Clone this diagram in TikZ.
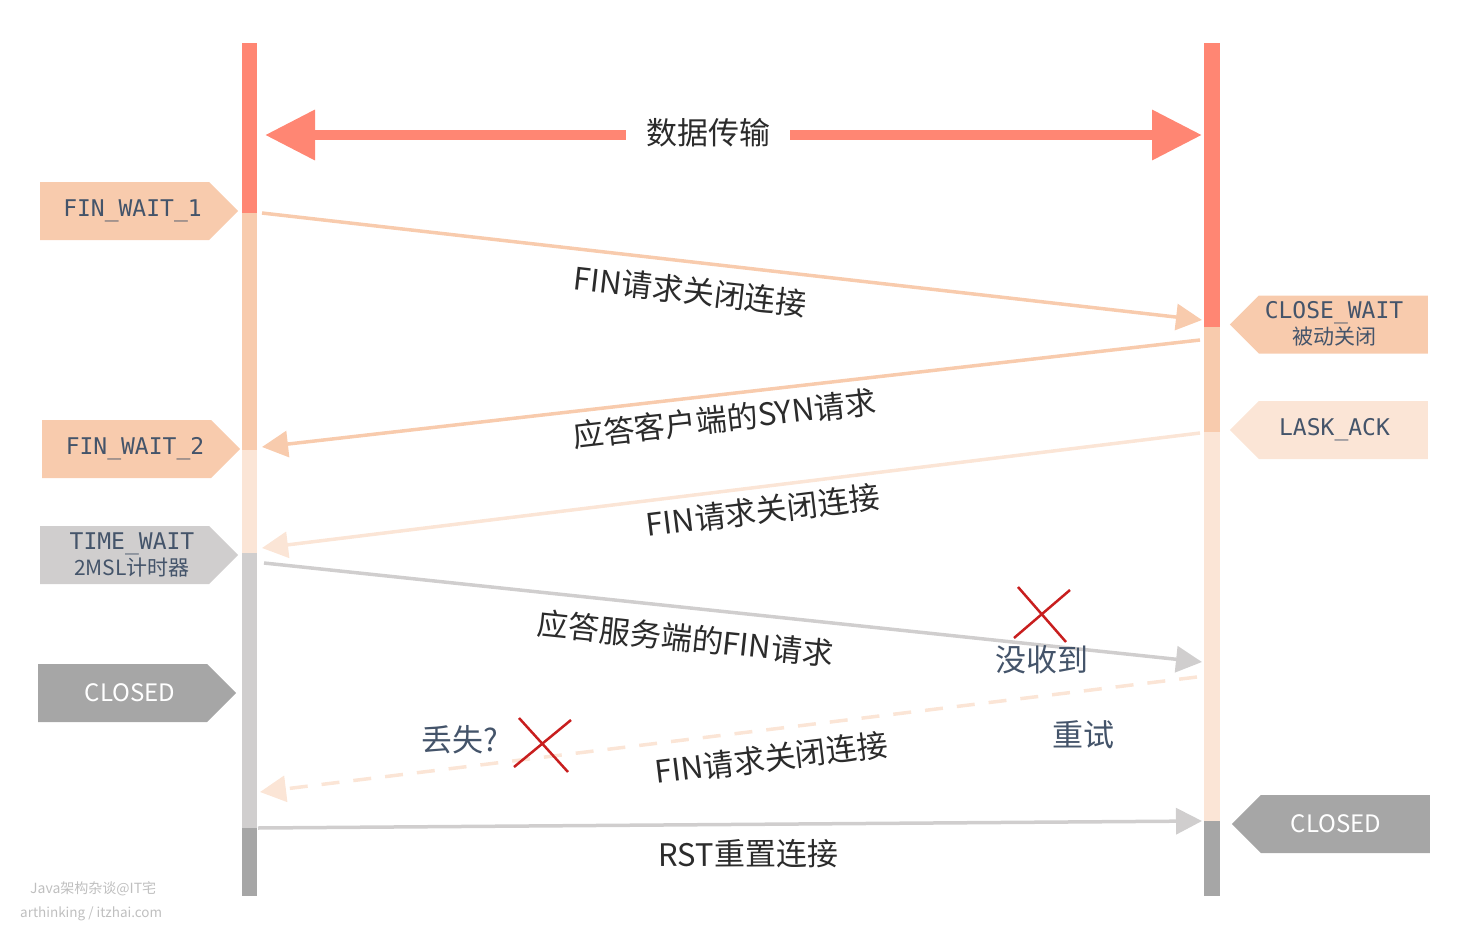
\documentclass[tikz,border=0pt]{standalone}
\usepackage{fontspec}
\setmainfont{Noto Sans CJK SC}
\newfontfamily\monof{DejaVu Sans Mono}
\usetikzlibrary{arrows.meta,shapes.symbols}

\definecolor{cred}{HTML}{FF8673}
\definecolor{cpeach}{HTML}{F8CBAD}
\definecolor{clight}{HTML}{FBE5D6}
\definecolor{cgray}{HTML}{D0CECE}
\definecolor{cdark}{HTML}{A6A6A6}
\definecolor{ctext}{HTML}{44546A}
\definecolor{clbl}{HTML}{2B2B2B}
\definecolor{ccross}{HTML}{C81E1E}
\definecolor{cwm}{HTML}{BFBFBF}

\tikzset{
  tag/.style={signal, signal from=nowhere, signal pointer angle=90,
    minimum width=198pt, minimum height=58pt, inner sep=0pt},
  tagr/.style={tag, signal to=east, anchor=west},
  tagl/.style={tag, signal to=west, anchor=east},
  tagtext/.style={inner sep=0pt, text=ctext, align=center},
  msg/.style={line width=3.5pt, -{Triangle[length=26pt,width=26pt]}},
  lbl/.style={font=\fontsize{31}{36}\selectfont, text=clbl, sloped, inner sep=0pt},
  note/.style={font=\fontsize{31}{36}\selectfont, text=ctext, inner sep=0pt},
  cross/.style={ccross, line width=2.5pt},
}

\begin{document}
\begin{tikzpicture}[x=1pt,y=-1pt]

  \useasboundingbox (0,0) rectangle (1476,926);

  \def\mono{\monof\fontsize{23}{26}\selectfont}
  \def\small{\fontsize{21}{24}\selectfont}
  \def\us{\char95\relax}

  % bars
  \foreach \ya/\yb/\col in {43/213/cred,213/450/cpeach,450/553/clight,553/828/cgray,828/896/cdark}
    \fill[\col] (242,\ya) rectangle (257,\yb);
  \foreach \ya/\yb/\col in {43/327/cred,327/432/cpeach,432/821/clight,821/896/cdark}
    \fill[\col] (1204,\ya) rectangle (1220,\yb);

  % data transfer
  \coordinate (tl) at (265,135);
  \coordinate (tr) at (1202,135);
  \draw[cred, line width=10pt, {Triangle[length=50pt,width=48pt]}-{Triangle[length=50pt,width=48pt]}] (tl) -- (tr);
  \node[fill=white, inner xsep=20pt, inner ysep=2pt, font=\fontsize{31}{36}\selectfont, text=clbl] (data) at (708,133) {数据传输};

  % states
  \node[tagr, fill=cpeach] (fw1) at (40,211) {};
  \node[tagtext] (fw1t) at (132.5,211) {\mono FIN\us WAIT\us 1};
  \node[tagr, fill=cpeach] (fw2) at (42,449) {};
  \node[tagtext] (fw2t) at (135,449) {\mono FIN\us WAIT\us 2};
  \node[tagr, fill=cgray] (tw) at (40,555) {};
  \node[tagtext] (twt) at (132,555) {\mono TIME\us WAIT\\[2pt]\small 2MSL计时器};
  \node[tagr, fill=cdark] (cl1) at (38,693) {};
  \node[tagtext, text=white, font=\fontsize{24}{28}\selectfont] (cl1t) at (130,693) {CLOSED};
  \node[tagl, fill=cpeach] (cw) at (1428,324.5) {};
  \node[tagtext] (cwt) at (1334,324) {\mono CLOSE\us WAIT\\[2pt]\small 被动关闭};
  \node[tagl, fill=clight] (la) at (1428,430) {};
  \node[tagtext] (lat) at (1334.5,430) {\mono LASK\us ACK};
  \node[tagl, fill=cdark] (cl2) at (1430,824) {};
  \node[tagtext, text=white, font=\fontsize{24}{28}\selectfont] (cl2t) at (1336,824) {CLOSED};

  % messages
  \coordinate (c1) at (262,213);   \coordinate (s1) at (1202,320);
  \coordinate (s2) at (1200,340);  \coordinate (c2) at (262,447);
  \coordinate (s3) at (1200,433);  \coordinate (c3) at (262,548);
  \coordinate (c4) at (264,563);   \coordinate (s4) at (1202,662);
  \coordinate (s5) at (1197,677);  \coordinate (c5) at (260,792);
  \coordinate (c6) at (258,828);   \coordinate (s6) at (1202,821);

  \draw[msg, cpeach] (c1) -- node[lbl, below=13pt, pos=0.459] (m1) {FIN请求关闭连接} (s1);
  \draw[msg, cpeach] (s2) -- node[lbl, below=8pt, pos=0.51] (m2) {应答客户端的SYN请求} (c2);
  \draw[msg, clight] (s3) -- node[lbl, below=7.5pt, pos=0.469] (m3) {FIN请求关闭连接} (c3);
  \draw[msg, cgray] (c4) -- node[lbl, below=14.5pt, pos=0.453] (m4) {应答服务端的FIN请求} (s4);
  \draw[msg, clight, dash pattern=on 18pt off 14pt] (s5) -- node[lbl, below=12.5pt, pos=0.458] (m5) {FIN请求关闭连接} (c5);
  \draw[msg, cgray] (c6) -- node[lbl, below=13.5pt, pos=0.519] (m6) {RST重置连接} (s6);

  % lost / retry
  \node[note] (lost) at (460,740) {丢失?};
  \node[note] (miss) at (1042,660) {没收到};
  \node[note] (retry) at (1083,735) {重试};
  \draw[cross] (1018,587) -- (1066,642);
  \draw[cross] (1070,590) -- (1014,638);
  \draw[cross] (519,718) -- (568,772);
  \draw[cross] (571,720) -- (514,767);

  % watermark
  \node[anchor=west, inner sep=0pt, text=cwm, font=\fontsize{14}{16}\selectfont] (wm1) at (30,889) {Java架构杂谈@IT宅};
  \node[anchor=west, inner sep=0pt, text=cwm, font=\fontsize{13.5}{16}\selectfont] (wm2) at (20,914) {arthinking / itzhai.com};
\end{tikzpicture}
\end{document}
